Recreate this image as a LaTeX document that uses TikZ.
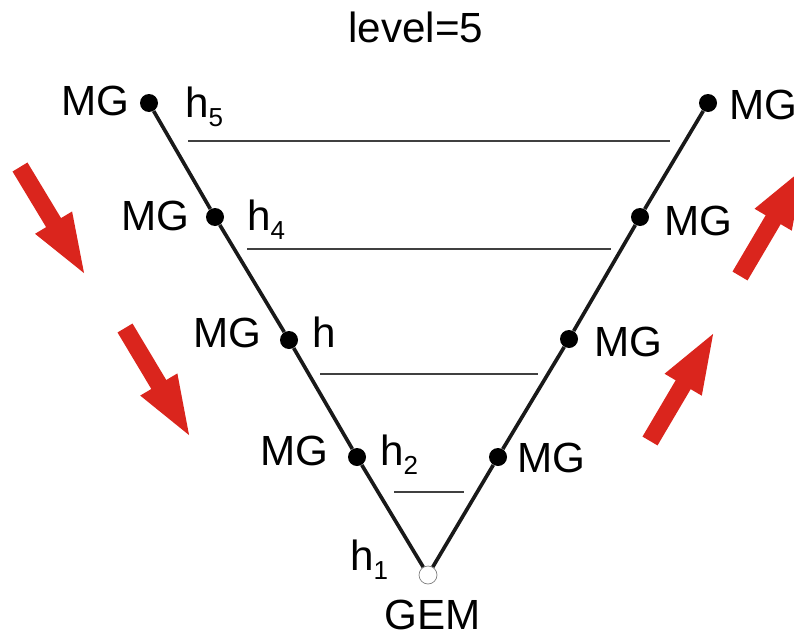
\documentclass[tikz,border=0pt]{standalone}
\usepackage{fontspec}
\setmainfont{Liberation Sans}
\usetikzlibrary{arrows.meta}

\definecolor{arrowred}{RGB}{218,37,29}
\newcommand{\hsub}[1]{\raisebox{-6.5pt}{\fontsize{18.5}{18.5}\selectfont #1}}

\begin{document}
\begin{tikzpicture}[
  x=0.025cm, y=-0.025cm,
  font=\fontsize{30}{35}\selectfont,
  dot/.style   ={circle, fill=black, inner sep=0pt, minimum size=12.8pt},
  gem/.style   ={circle, draw=gray, fill=white, line width=0.5pt,
                 inner sep=0pt, minimum size=12.8pt},
  lbl/.style   ={inner sep=0pt},
  vline/.style ={line width=2.6pt, black!90},
  lvl/.style   ={line width=1pt, black!75},
  push/.style  ={draw=arrowred, line width=12.4pt,
                 -{Triangle[length=46pt, width=26.5pt]}},
]
\useasboundingbox (0,0) rectangle (794,637);

% =========================== TITLE ==================================
\node[lbl, anchor=base] (title) at (416,43) {level=5};

% =========================== NODES ==================================
\node[dot] (L5)  at (149,103) {};
\node[dot] (L4)  at (215,217) {};
\node[dot] (L3)  at (289,340) {};
\node[dot] (L2)  at (357,457) {};
\node[gem] (G)   at (428,575) {};
\node[dot] (R2)  at (498,457) {};
\node[dot] (R3)  at (569,339) {};
\node[dot] (R4)  at (640,217) {};
\node[dot] (R5)  at (708,103) {};

% ========================== LABELS ==================================
\node[lbl, anchor=base east] (mgL5) at (130,115) {MG};
\node[lbl, anchor=base east] (mgL4) at (190,230) {MG};
\node[lbl, anchor=base east] (mgL3) at (262,347) {MG};
\node[lbl, anchor=base east] (mgL2) at (329,465) {MG};
\node[lbl, anchor=base west] (mgR5) at (729,119) {MG};
\node[lbl, anchor=base west] (mgR4) at (664,235) {MG};
\node[lbl, anchor=base west] (mgR3) at (594,356) {MG};
\node[lbl, anchor=base west] (mgR2) at (517,472) {MG};

\node[lbl, anchor=base west] (h5) at (185,117) {h\hsub{5}};
\node[lbl, anchor=base west] (h4) at (247,230) {h\hsub{4}};
\node[lbl, anchor=base west] (h3) at (312,347) {h};
\node[lbl, anchor=base west] (h2) at (380,465) {h\hsub{2}};
\node[lbl, anchor=base west] (h1) at (350,570) {h\hsub{1}};
\node[lbl, anchor=base] (gemtxt) at (433,629) {GEM};

% ========================== V SHAPE =================================
\draw[vline] (L5) -- (L4) -- (L3) -- (L2) -- (G);
\draw[vline] (R5) -- (R4) -- (R3) -- (R2) -- (G);

% ========================== LEVELS ==================================
\draw[lvl] (188,141) -- (670,141);
\draw[lvl] (247,249) -- (611,249);
\draw[lvl] (320,374) -- (538,374);
\draw[lvl] (394,492) -- (464,492);

% ======================= RED ARROWS =================================
\draw[push] (20,167)  -- (87,278);
\draw[push] (125,328) -- (192,440);
\draw[push] (650,441) -- (716,329);
\draw[push] (740,276) -- (806,164);

\end{tikzpicture}
\end{document}
